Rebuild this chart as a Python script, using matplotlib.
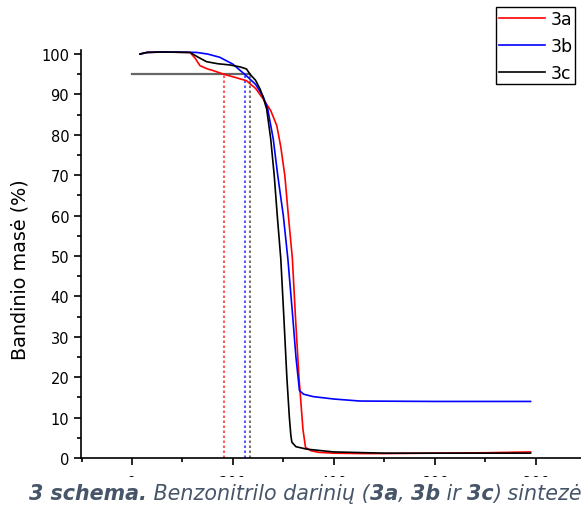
import numpy as np
import matplotlib
matplotlib.use("Agg")
import matplotlib.pyplot as plt
from matplotlib.ticker import MultipleLocator
from matplotlib.patches import Rectangle

plt.rcParams['font.family'] = ['DejaVu Sans']

# ─── TGA curves (temperature °C, mass %) ───
x_3a = [16, 30, 60, 115, 125, 135, 150, 161, 182, 205, 227, 245, 260, 275, 287, 295,
        303, 310, 318, 324, 331, 339, 344, 355, 370, 400, 450, 500, 600, 700, 790]
y_3a = [100.0, 100.4, 100.5, 100.4, 99.0, 97.1, 96.3, 95.9, 95.0, 94.2, 93.4, 91.5, 88.9, 86.0, 82.3, 77.0,
        69.9, 60.0, 49.3, 35.0, 20.0, 7.0, 2.6, 1.8, 1.4, 1.2, 1.1, 1.1, 1.2, 1.3, 1.5]

x_3b = [16, 30, 60, 128, 150, 174, 200, 227, 245, 260, 269, 280, 289, 300, 309, 318,
        325, 332, 340, 359, 400, 452, 600, 790]
y_3b = [100.0, 100.4, 100.5, 100.4, 100.0, 99.2, 97.5, 94.6, 92.5, 89.5, 86.4, 79.0, 69.9, 60.0, 49.3, 36.0,
        25.0, 16.7, 15.8, 15.2, 14.6, 14.1, 14.0, 14.0]

x_3c = [16, 30, 60, 115, 130, 148, 170, 194, 215, 227, 234, 245, 254, 260, 267, 275,
        282, 288, 295, 301, 307, 312, 315, 317, 325, 346, 400, 500, 600, 700, 790]
y_3c = [100.0, 100.4, 100.5, 100.4, 99.3, 98.1, 97.6, 97.3, 96.8, 96.3, 95.0, 93.5, 91.3, 89.3, 86.4, 79.0,
        69.9, 60.0, 49.3, 35.0, 20.0, 10.0, 5.5, 3.9, 2.8, 2.2, 1.5, 1.2, 1.2, 1.2, 1.2]

labels = ["3a", "3b", "3c"]
colors = ["#ff0000", "#0000ff", "#000000"]

# 5 % mass loss marker
loss_level = 95
t5 = [182, 225, 234]
t5_colors = ["#ff5a5a", "#5a5aff", "#777777"]

W, H = 581, 506
fig = plt.figure(figsize=(W / 100, H / 100), dpi=100)
ax = fig.add_axes([81 / W, 1 - 459 / H, 1 - 81 / W, (459 - 51) / H])

for xs, ys, lab, c in zip([x_3a, x_3b, x_3c], [y_3a, y_3b, y_3c], labels, colors):
    ax.plot(xs, ys, color=c, lw=1.2, label=lab)

ax.plot([0, max(t5)], [loss_level, loss_level], color="#666666", lw=1.6, zorder=1)
for t, c in zip(t5, t5_colors):
    ax.plot([t, t], [0, loss_level], color=c, lw=1.5, ls=(0, (1.2, 1.2)), zorder=1)

ax.set_xlim(-101, 890)
ax.set_ylim(0, 101)
ax.xaxis.set_major_locator(MultipleLocator(200))
ax.xaxis.set_minor_locator(MultipleLocator(100))
ax.yaxis.set_major_locator(MultipleLocator(10))
ax.yaxis.set_minor_locator(MultipleLocator(5))
for s in ["top", "right"]:
    ax.spines[s].set_visible(False)
for s in ["left", "bottom"]:
    ax.spines[s].set_linewidth(1.2)
ax.tick_params(which="major", direction="out", length=5, width=1.2, labelsize=10.5)
ax.tick_params(which="minor", direction="out", length=3, width=1.2)
ax.tick_params(axis="x", pad=7)
ax.set_ylabel("Bandinio masė (%)", fontsize=13.8)
ax.yaxis.set_label_coords(-0.102, 0.463)

leg = fig.legend(loc="upper left", bbox_to_anchor=(496 / W, 1 - 8 / H), fontsize=12.5,
                 frameon=True, fancybox=False, edgecolor="black", framealpha=1,
                 borderpad=0.15, borderaxespad=0, handlelength=2.7, handletextpad=0.3,
                 labelspacing=0.52)
leg.get_frame().set_linewidth(1.0)

# caption strip covering the lower part of the x tick labels
fig.add_artist(Rectangle((0, 0), 1, (H - 478) / H, transform=fig.transFigure,
                         facecolor="white", edgecolor="none", zorder=5))

cap_color = "#475569"
parts = [("3 schema.", "bold"), (" Benzonitrilo darinių (", "normal"), ("3a", "bold"),
         (", ", "normal"), ("3b", "bold"), (" ir ", "normal"), ("3c", "bold"),
         (") sintezė", "normal")]
renderer = fig.canvas.get_renderer()
x0 = 29
for txt, wt in parts:
    t = fig.text(x0 / W, (H - 500) / H, txt, fontsize=14.9, style="italic",
                 weight=wt, color=cap_color, va="baseline", zorder=6)
    x0 = t.get_window_extent(renderer).x1

fig.savefig("out.png", dpi=100)
